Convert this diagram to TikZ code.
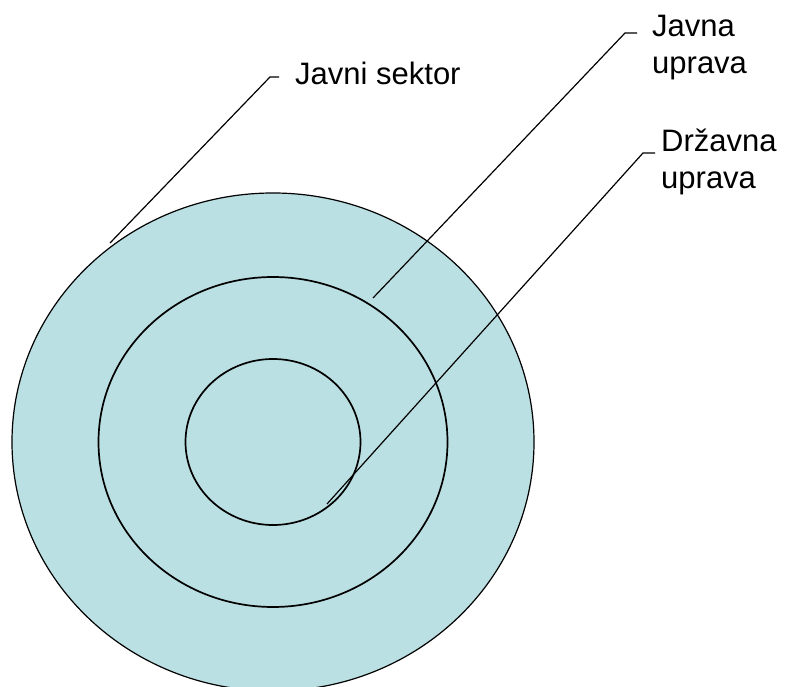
\documentclass[tikz,border=0pt]{standalone}
\usepackage{fontspec}
\setmainfont{Liberation Sans}
\usetikzlibrary{shapes.geometric}
\definecolor{ringfill}{HTML}{BBE0E3}
\begin{document}
\begin{tikzpicture}[
    x=1pt, y=1pt,
    ring/.style={
        draw=black,
        fill=ringfill,
        ellipse,
        inner sep=0pt,
        outer sep=0pt
    },
    lbl/.style={
        anchor=base west,
        inner sep=0pt,
        align=left,
        font=\fontsize{31}{37}\selectfont
    },
    leader/.style={
        draw=black,
        line width=1.2pt
    }
]
    \useasboundingbox (0,0) rectangle (789,686);
    \clip (0,0) rectangle (789,686);

    \node[ring, line width=1.2pt, minimum width=522pt, minimum height=498pt]
        (sektor) at (273,244) {};
    \node[ring, line width=1.7pt, minimum width=349pt, minimum height=330pt]
        (javna) at (273,244) {};
    \node[ring, line width=1.7pt, minimum width=175pt, minimum height=166pt]
        (drzavna) at (273,244) {};

    \node[lbl] (sektorlbl) at (295,601) {Javni sektor};
    \node[lbl] (javnalbl) at (652,612) {Javna\\uprava};
    \node[lbl] (drzavnalbl) at (661,497) {Državna\\uprava};

    \coordinate (sektorend) at (110,443);
    \coordinate (sektorknee) at (270,609);
    \coordinate (sektortick) at (279,609);
    \coordinate (javnaend) at (373,388);
    \coordinate (javnaknee) at (625,653);
    \coordinate (javnatick) at (637,653);
    \coordinate (drzavnaend) at (327,182);
    \coordinate (drzavnaknee) at (643,533);
    \coordinate (drzavnatick) at (655,533);

    \draw[leader] (sektorend) -- (sektorknee) -- (sektortick);
    \draw[leader] (javnaend) -- (javnaknee) -- (javnatick);
    \draw[leader] (drzavnaend) -- (drzavnaknee) -- (drzavnatick);
\end{tikzpicture}
\end{document}
